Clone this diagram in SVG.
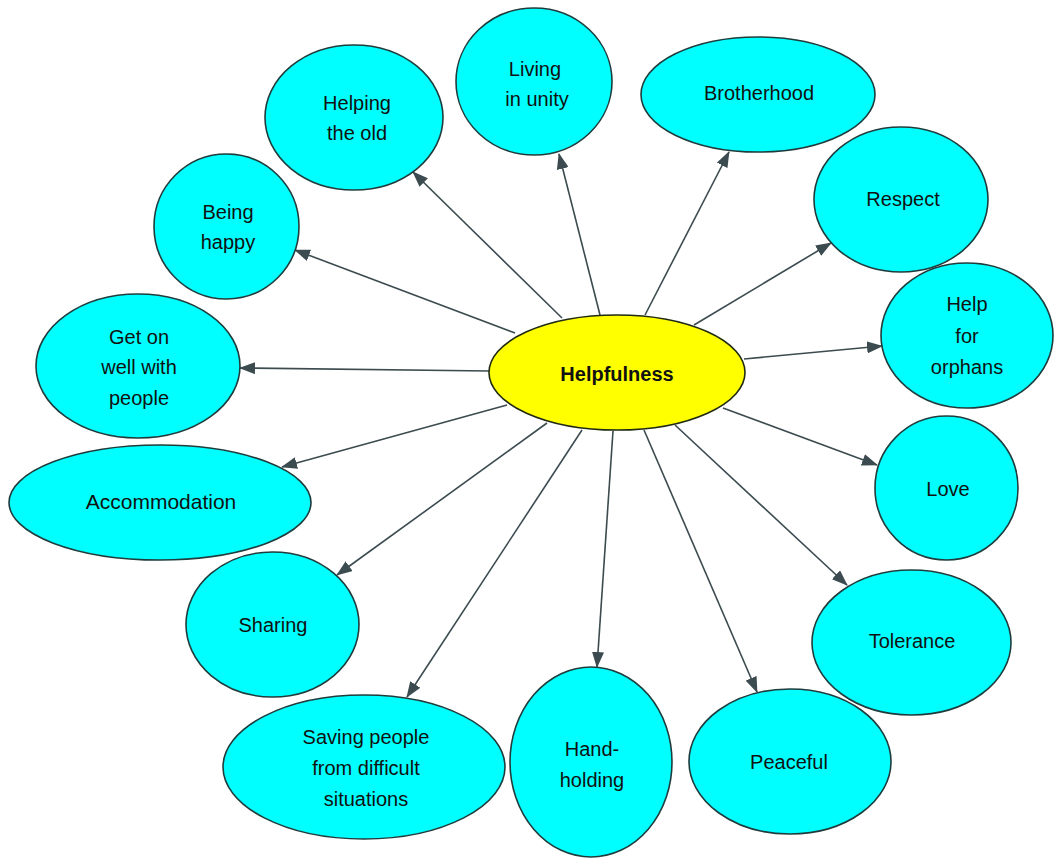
<svg xmlns="http://www.w3.org/2000/svg" width="1054" height="859" viewBox="0 0 1054 859">
<defs>
<style>
.n ellipse{fill:#00ffff;stroke:#1f3c3c;stroke-width:1.6}
.c ellipse{fill:#ffff00;stroke:#1f2a10;stroke-width:1.6}
text{font-family:"Liberation Sans",Arial,sans-serif;font-size:20px;fill:#111;text-anchor:middle}
.b{font-weight:bold;font-size:20px}
#connectors line{stroke:#3b4b4f;stroke-width:1.6;marker-end:url(#ah)}
</style>
<marker id="ah" viewBox="0 0 16 12" refX="15" refY="6" markerWidth="16" markerHeight="12" markerUnits="userSpaceOnUse" orient="auto">
<path d="M0,0 L16,6 L0,12 Z" fill="#3b4b4f"/>
</marker>
</defs>
<rect width="1054" height="859" fill="#fff"/>
<g id="connectors">
<line x1="600" y1="315" x2="559" y2="154"/>
<line x1="645" y1="315" x2="729" y2="152"/>
<line x1="694" y1="325" x2="831" y2="243"/>
<line x1="744" y1="359" x2="882" y2="346"/>
<line x1="562" y1="318" x2="413" y2="172"/>
<line x1="515" y1="333" x2="295" y2="250"/>
<line x1="489" y1="371" x2="240" y2="368"/>
<line x1="507" y1="405" x2="282" y2="467"/>
<line x1="547" y1="423" x2="337" y2="575"/>
<line x1="582" y1="430" x2="407" y2="697"/>
<line x1="613" y1="431" x2="597" y2="667"/>
<line x1="644" y1="430" x2="757" y2="692"/>
<line x1="675" y1="425" x2="847" y2="585"/>
<line x1="723" y1="408" x2="877" y2="465"/>
</g>
<g id="helpfulness" class="c"><ellipse cx="617" cy="372.5" rx="128" ry="57.5"/><text class="b" x="617" y="381">Helpfulness</text></g>
<g id="living" class="n"><ellipse cx="534" cy="81.5" rx="78" ry="73.5"/><text x="535" y="76">Living</text><text x="537" y="106">in unity</text></g>
<g id="brotherhood" class="n"><ellipse cx="758" cy="94.5" rx="117" ry="57.5"/><text x="759" y="100">Brotherhood</text></g>
<g id="respect" class="n"><ellipse cx="901" cy="199.5" rx="87" ry="72.5"/><text x="903" y="206">Respect</text></g>
<g id="orphans" class="n"><ellipse cx="967" cy="335.5" rx="86" ry="72.5"/><text x="967" y="311">Help</text><text x="967" y="343">for</text><text x="967" y="374">orphans</text></g>
<g id="helpingold" class="n"><ellipse cx="354" cy="117.5" rx="89" ry="72.5"/><text x="357" y="110">Helping</text><text x="357" y="140">the old</text></g>
<g id="happy" class="n"><ellipse cx="226.5" cy="226.5" rx="72.5" ry="72.5"/><text x="228" y="219">Being</text><text x="228" y="249">happy</text></g>
<g id="geton" class="n"><ellipse cx="138" cy="366" rx="102" ry="72"/><text x="139" y="344">Get on</text><text x="139" y="374">well with</text><text x="139" y="405">people</text></g>
<g id="accommodation" class="n"><ellipse cx="160" cy="502.5" rx="151" ry="57.5"/><text x="161" y="509" style="font-size:21px">Accommodation</text></g>
<g id="sharing" class="n"><ellipse cx="272.5" cy="624.5" rx="86.5" ry="72.5"/><text x="273" y="632">Sharing</text></g>
<g id="saving" class="n"><ellipse cx="364" cy="767" rx="141" ry="72"/><text x="366" y="744">Saving people</text><text x="366" y="775">from difficult</text><text x="366" y="806">situations</text></g>
<g id="handholding" class="n"><ellipse cx="591" cy="762" rx="81" ry="95"/><text x="592" y="756">Hand-</text><text x="592" y="787">holding</text></g>
<g id="peaceful" class="n"><ellipse cx="790" cy="761.5" rx="101" ry="72.5"/><text x="789" y="769">Peaceful</text></g>
<g id="tolerance" class="n"><ellipse cx="911.5" cy="642.5" rx="99.5" ry="72.5"/><text x="912" y="648">Tolerance</text></g>
<g id="love" class="n"><ellipse cx="946.5" cy="488" rx="71.5" ry="72"/><text x="948" y="496">Love</text></g>
</svg>
